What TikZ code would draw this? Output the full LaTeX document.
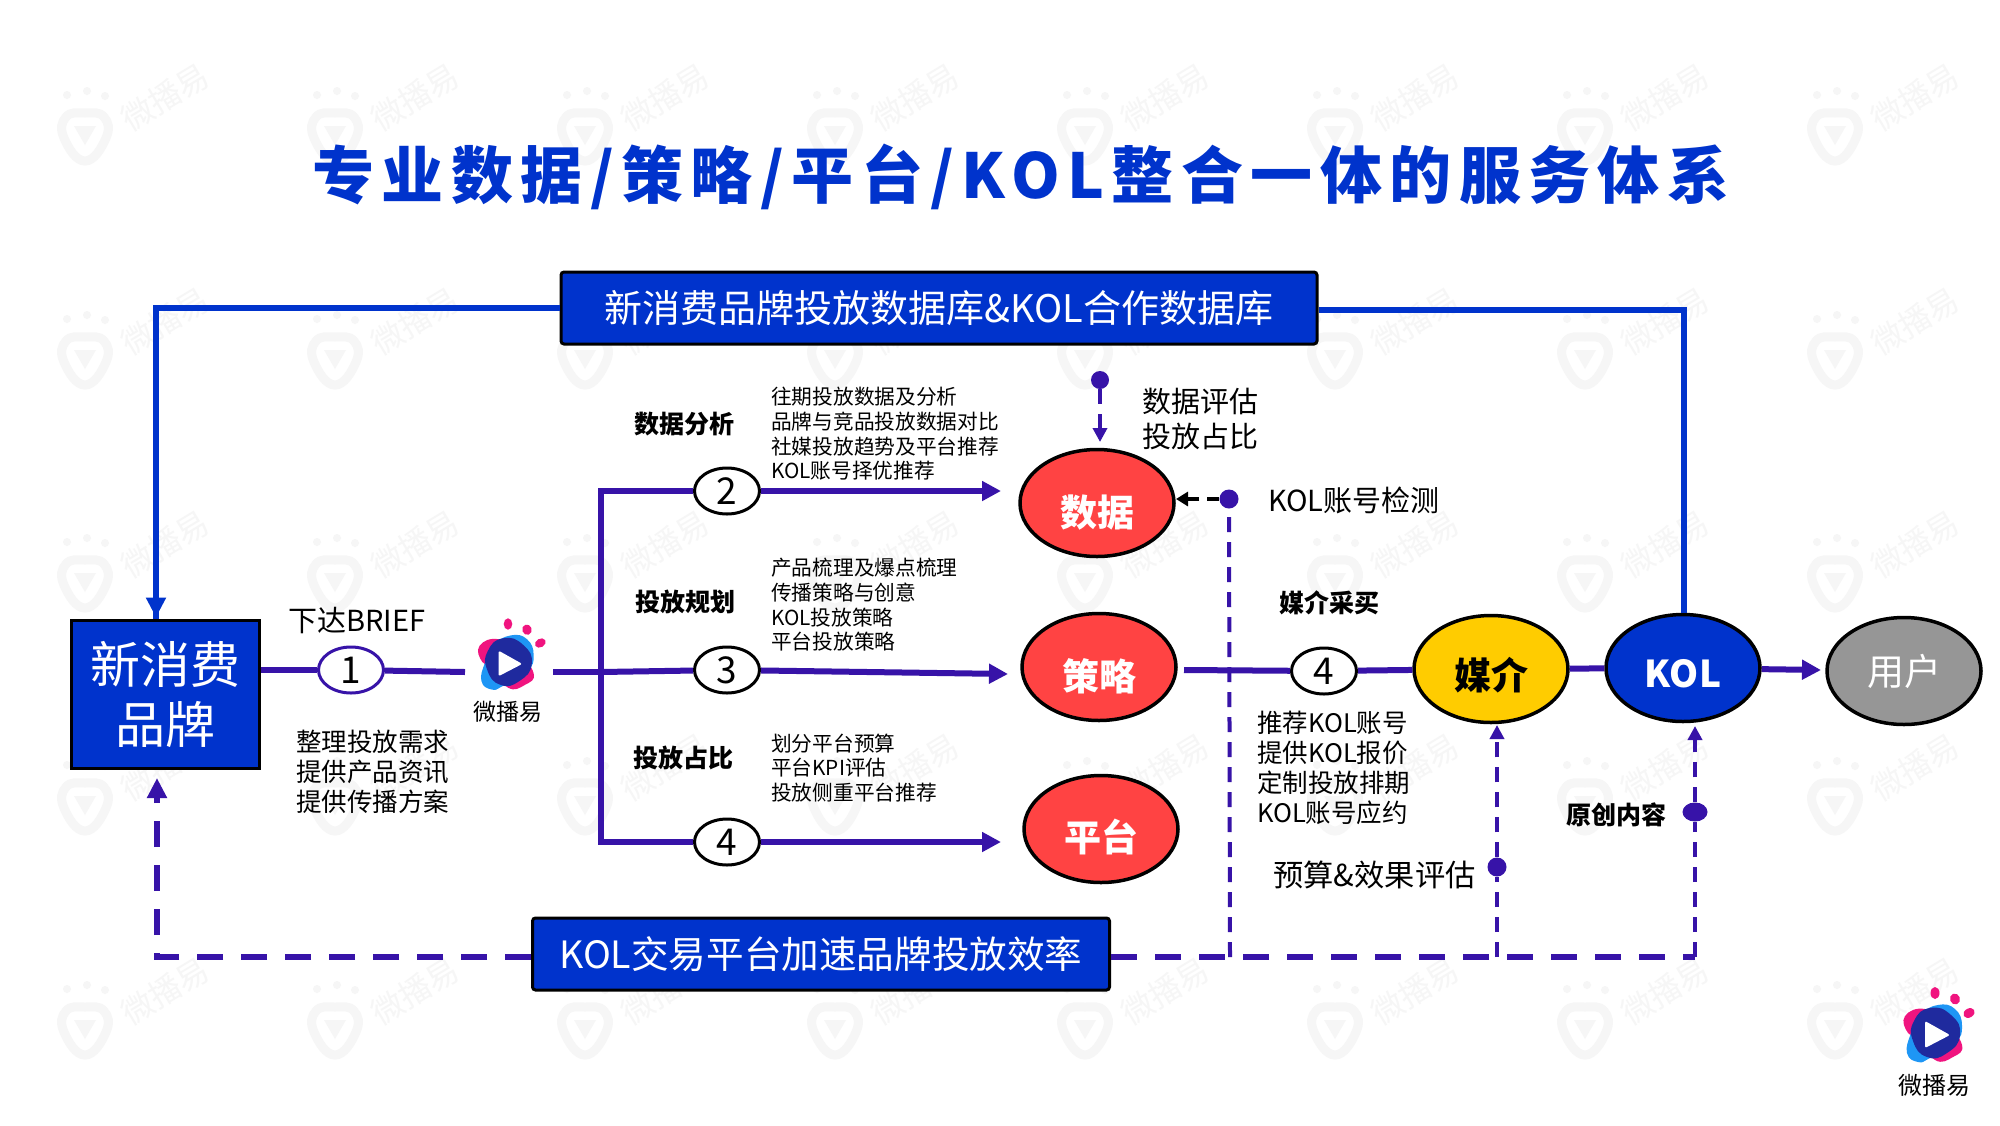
\documentclass[tikz,border=0pt]{standalone}
\usepackage{fontspec}
\setmainfont{Noto Sans CJK SC}
\usetikzlibrary{shapes.geometric,arrows.meta}
\definecolor{kblue}{HTML}{0033CC}
\definecolor{kpurple}{HTML}{3713A8}
\definecolor{kred}{HTML}{FF4343}
\definecolor{kyellow}{HTML}{FFCC00}
\definecolor{kgray}{HTML}{969696}
\definecolor{kwm}{HTML}{F6F6F6}
\definecolor{lpink}{HTML}{F0147F}
\definecolor{lsky}{HTML}{1E96F5}
\definecolor{lnavy}{HTML}{1F2A9E}
\newcommand{\fs}[1]{\fontsize{#1}{#1}\selectfont}
\newcommand{\lowr}[2]{\rule{0pt}{#1pt}#2}
\tikzset{
  x=1pt,y=-1pt,
  bluebox/.style={draw=black,line width=3pt,fill=kblue,text=white,rounded corners=3pt,inner sep=0pt},
  oval/.style={ellipse,draw=black,line width=3.5pt,minimum width=154pt,minimum height=107pt,inner sep=0pt},
  numoval/.style={ellipse,draw=black,line width=3pt,fill=white,minimum width=65pt,minimum height=46pt,inner sep=0pt,font=\fs{37}},
  ovaltext/.style={font=\fs{37}\bfseries,text=white},
  biglabel/.style={anchor=west,inner sep=0pt,font=\fs{29}},
  headlabel/.style={anchor=west,inner sep=0pt,font=\fs{25}\bfseries},
  listlabel/.style={anchor=west,inner sep=0pt,align=left,font=\fontsize{20.7}{24.7}\selectfont},
  midlabel/.style={anchor=west,inner sep=0pt,align=left,font=\fontsize{25.5}{30}\selectfont},
  mainline/.style={draw=kpurple,line width=6pt},
  mainarrow/.style={mainline,-{Triangle[length=19pt,width=19pt]}},
  blueline/.style={draw=kblue,line width=6pt},
  bigdash/.style={draw=kpurple,line width=6.5pt,dash pattern=on 26pt off 18pt},
  thindash/.style={draw=kpurple,line width=4pt,dash pattern=on 15pt off 10pt},
  dotmark/.style={circle,fill=kpurple,minimum size=19pt,inner sep=0pt},
  wblogo/.pic={
    \fill[lpink] plot[smooth cycle,tension=.8] coordinates {(-30,-17)(-10,-24)(10,-10)(27,12)(18,24)(0,27)(-15,5)(-27,0)};
    \fill[lsky] plot[smooth cycle,tension=.8] coordinates {(3,-28)(20,-24)(27,-7)(20,10)(-5,25)(-17,29)(-28,20)(-24,0)(-15,-18)};
    \fill[lnavy] plot[smooth cycle,tension=.9] coordinates {(-5,-25)(16,-18)(25,2)(12,20)(-8,24)(-22,8)(-21,-12)};
    \fill[white,rounded corners=2pt] (-10,-12) -- (15,2) -- (-10,15) -- cycle;
    \fill[lpink] (0,-40) ellipse [x radius=4.5,y radius=6];
    \fill[lpink,rotate around={20:(20,-34)}] (20,-34) ellipse [x radius=5,y radius=5.5];
    \fill[lpink,rotate around={30:(34,-20)}] (34,-20) ellipse [x radius=6,y radius=4.5];
  },
  wmark/.pic={
    \draw[kwm,line width=9pt] plot[smooth cycle,tension=.8] coordinates {(-19,-16)(0,-20)(19,-16)(21,5)(0,28)(-21,5)};
    \fill[kwm] (-11,-7) -- (11,-7) -- (0,12) -- cycle;
    \fill[kwm] (-18,-38) circle (4);
    \fill[kwm] (2,-42) circle (4);
    \fill[kwm] (20,-37) circle (4);
    \node[rotate=31,text=kwm,font=\fs{32},inner sep=0pt] at (80,-36) {微播易};
  }
}
\begin{document}
\begin{tikzpicture}
\useasboundingbox (0,0) rectangle (2000,1125);
\fill[white] (0,0) rectangle (2000,1125);
% watermark
\foreach \cx in {85,335,585,835,1085,1335,1585,1835}
  \foreach \cy in {133,357,580,803,1027}
    \pic at (\cx,\cy) {wmark};
% title
\node (title) [inner sep=0pt,text=kblue,font=\fs{62}\bfseries\addfontfeature{LetterSpace=12}] at (1021,177) {专业数据/策略/平台/KOL整合一体的服务体系};
% boxes
\node (dbbox) [bluebox,minimum width=756pt,minimum height=72pt,font=\fs{38}] at (939,308) {新消费品牌投放数据库\&KOL合作数据库};
\node (brand) [bluebox,rounded corners=0pt,minimum width=188pt,minimum height=148pt,align=center,font=\fontsize{50}{60}\selectfont] at (165,694) {新消费\\品牌};
\node (kolbox) [bluebox,minimum width=577pt,minimum height=72pt,font=\fs{37.6}] at (821,954) {KOL交易平台加速品牌投放效率};
% ovals
\node (data) [oval,fill=kred,ovaltext] at (1097,503) {\lowr{51}{数据}};
\node (strategy) [oval,fill=kred,ovaltext] at (1099,667) {\lowr{51}{策略}};
\node (platform) [oval,fill=kred,ovaltext] at (1101,829) {\lowr{49}{平台}};
\node (media) [oval,fill=kyellow,font=\fs{37}\bfseries,text=black] at (1491,669) {\lowr{45}{媒介}};
\node (kol) [oval,fill=kblue,ovaltext] at (1683,668) {\lowr{40}{KOL}};
\node (user) [oval,fill=kgray,text=white,font=\fs{37}] at (1904,671) {用户};
% numbered ovals
\node (n1) [numoval,draw=kpurple] at (351,670) {1};
\node (n2) [numoval] at (727,491) {2};
\node (n3) [numoval] at (727,670) {3};
\node (n4) [numoval] at (727,842) {4};
\node (n5) [numoval] at (1324,671) {4};
% junctions and free ends
\coordinate (tl) at (156,308);
\coordinate (tr) at (1684,310);
\coordinate (gapa) at (465,672);
\coordinate (gapb) at (553,672);
\coordinate (jc) at (601,672);
\coordinate (jt) at (601,491);
\coordinate (jb) at (601,842);
\coordinate (tipa) at (1001,491);
\coordinate (tipb) at (1008,674);
\coordinate (tipc) at (1001,842);
\coordinate (st) at (1184,670);
\coordinate (tipu) at (1821,670);
\coordinate (bl) at (157,957);
\coordinate (tipbl) at (157,778);
\coordinate (br) at (1695,957);
\coordinate (b1) at (1230,957);
\coordinate (b2) at (1497,957);
\coordinate (tipm) at (1497,725);
\coordinate (tipk) at (1695,726);
\coordinate (tipd) at (1100,442);
\coordinate (tipe) at (1176,499);
% dots
\node (dota) [dotmark,minimum size=18pt] at (1100,380) {};
\node (dotb) [dotmark] at (1229,499) {};
\node (dotc) [dotmark] at (1497,867) {};
\node (dotk) [ellipse,fill=kpurple,minimum width=25pt,minimum height=19pt,inner sep=0pt] at (1695,812) {};
% blue connectors
\draw[blueline] (dbbox.west |- tl) -- (tl) -- (tl |- brand.north) ;
\draw[draw=kblue,line width=6pt,-{Triangle[length=20pt,width=19pt]}] (tl) -- ([yshift=1pt]tl |- brand.north);
\draw[blueline] (dbbox.east |- tr) -- (tr) -- (kol.north -| tr);
% purple connectors
\draw[mainline] (brand.east |- n1) -- (n1);
\draw[mainline] (n1) -- (gapa);
\draw[mainline] (gapb) -- (jc);
\draw[mainline,line cap=rect] (jt) -- (jb);
\draw[mainline] (jt) -- (n2);
\draw[mainline] (jc) -- (n3);
\draw[mainline] (jb) -- (n4);
\draw[mainarrow] (n2) -- (tipa);
\draw[mainarrow] (n3) -- (tipb);
\draw[mainarrow] (n4) -- (tipc);
\draw[mainline] (st) -- (n5);
\draw[mainline] (n5) -- (media);
\draw[mainline] (media) -- (kol);
\draw[mainarrow] (kol) -- (tipu);
% dashed connectors
\draw[bigdash,-{Triangle[length=20pt,width=19pt]}] (kolbox.west |- bl) -- (bl) -- (tipbl);
\draw[bigdash] (kolbox.east |- br) -- (br);
\draw[thindash] (br) -- (dotk);
\draw[thindash,-{Triangle[length=14pt,width=14pt]}] (dotk) -- (tipk);
\draw[thindash] (b2) -- (dotc);
\draw[thindash,-{Triangle[length=14pt,width=14pt]}] (dotc) -- (tipm);
\draw[thindash] (b1) -- (dotb);
\draw[thindash,-{Triangle[length=14pt,width=14pt]}] (dota) -- (tipd);
\draw[draw=black,line width=4pt,dash pattern=on 12pt off 8pt,-{Triangle[length=12pt,width=14pt]}] (dotb) -- (tipe);
% logos
\pic[scale=.95] at (508,662) {wblogo};
\node (wbmid) [inner sep=0pt,font=\fs{23}] at (508,712) {微播易};
\pic at (1935,1033) {wblogo};
\node (wbcorner) [inner sep=0pt,font=\fs{24}] at (1934,1085) {微播易};
% labels
\node (brief) [biglabel] at (288,620) {下达BRIEF};
\node (needs) [midlabel] at (296,772) {整理投放需求\\提供产品资讯\\提供传播方案};
\node (ha) [headlabel] at (634,424) {数据分析};
\node (hb) [headlabel] at (635,602) {投放规划};
\node (hc) [headlabel] at (633,758) {投放占比};
\node (hd) [headlabel] at (1279,603) {媒介采买};
\node (he) [headlabel] at (1566,815) {原创内容};
\node (la) [listlabel] at (771,434) {往期投放数据及分析\\品牌与竞品投放数据对比\\社媒投放趋势及平台推荐\\KOL账号择优推荐};
\node (lb) [listlabel] at (771,605) {产品梳理及爆点梳理\\传播策略与创意\\KOL投放策略\\平台投放策略};
\node (lc) [listlabel] at (771,768) {划分平台预算\\平台KPI评估\\投放侧重平台推荐};
\node (eval) [biglabel,align=left,font=\fontsize{29}{35}\selectfont] at (1142,419) {数据评估\\投放占比};
\node (detect) [biglabel] at (1268,500) {KOL账号检测};
\node (ld) [midlabel] at (1257,768) {推荐KOL账号\\提供KOL报价\\定制投放排期\\KOL账号应约};
\node (budget) [biglabel,font=\fs{30.3}] at (1273,875) {预算\&效果评估};
\end{tikzpicture}
\end{document}
